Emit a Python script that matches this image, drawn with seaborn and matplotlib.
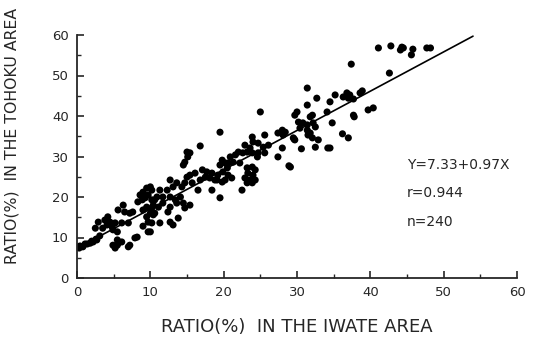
import matplotlib
matplotlib.use("Agg")
import matplotlib.pyplot as plt
import seaborn as sns
import pandas as pd
import numpy as np
from matplotlib.ticker import MultipleLocator

# Data (x: Iwate ratio %, y: Tohoku ratio %)
iwate = [
    0.3, 0.4, 0.8, 1.1, 1.4, 1.8, 2.0, 2.2, 2.6, 2.7, 3.1,
    3.5, 3.8, 4.1, 4.2, 4.5, 4.8, 4.9, 5.2, 5.5, 5.6, 6.1, 6.3, 6.5, 7.0, 7.2, 7.6, 2.9, 2.5,
    4.9, 5.2, 5.5, 5.6, 6.1, 5.5, 7.0, 7.2, 7.9, 8.2, 9.7, 9.0,
    8.6, 9.0, 9.5, 10.0, 10.2, 9.7, 9.3, 8.9, 8.3, 10.2, 10.4, 9.5, 9.0, 9.5, 10.0, 10.4, 9.7, 10.2,
    10.0, 10.2, 10.6, 10.6, 10.9, 11.1, 11.3, 11.3, 11.7, 11.7, 12.3, 12.4, 12.7, 12.7, 12.7, 12.7,
    13.1, 13.1, 13.4, 13.6, 13.6, 13.8, 14.1, 14.3, 14.5, 14.7, 14.7, 15.0, 15.4, 15.7, 16.1, 16.5,
    16.8, 17.1, 17.5, 17.7, 18.1, 18.4, 18.4, 18.8, 19.1, 19.2, 19.5, 19.5, 19.8, 19.8, 19.9, 20.2,
    20.5, 20.6, 14.5, 14.7, 15.0, 15.1, 15.4, 19.5, 16.8, 25.0, 31.4, 22.5, 15.4,
    20.2, 20.6, 20.9, 21.1, 21.3, 21.6, 22.0, 22.2, 22.6, 22.9, 22.9, 23.2, 23.2, 23.2, 23.3, 23.6,
    23.6, 23.9, 23.9, 23.9, 23.9, 24.0, 24.0, 24.3, 24.3, 24.6, 24.7, 24.7, 25.4, 25.6, 25.6, 26.1,
    27.4, 27.4, 28.0, 28.0, 28.1, 29.1, 29.5, 29.7, 30.2, 30.4, 30.8,
    28.4, 28.9, 29.6, 29.7, 30.0, 30.6, 31.4, 31.4, 31.5, 31.8, 31.8, 32.1, 32.1, 32.2, 32.5, 32.5,
    32.7, 32.9, 34.1, 34.2, 34.5, 34.8, 35.2, 36.2, 36.3, 36.8, 37.0, 37.0, 37.2, 37.4, 37.7, 37.7,
    37.8, 38.6, 38.9, 39.7, 40.4, 34.5, 31.4,
    41.1, 42.6, 42.8, 44.1, 44.3, 44.5, 45.6, 45.8, 47.7, 48.2,
]
tohoku = [
    7.4, 7.9, 7.7, 8.4, 8.4, 8.6, 9.1, 8.9, 9.6, 9.4, 10.4,
    12.3, 14.3, 13.1, 15.1, 13.8, 12.6, 11.9, 13.6, 11.4, 16.8, 13.6, 18.0, 16.3, 13.6, 16.0, 16.3, 13.8, 12.3,
    8.1, 7.4, 9.4, 8.6, 8.9, 8.1, 7.7, 8.1, 9.9, 10.1, 11.4, 12.8,
    20.5, 21.2, 22.2, 22.5, 21.7, 20.5, 19.8, 19.3, 18.8, 19.3, 18.0, 17.5, 16.8, 15.1, 16.0, 15.6, 13.8, 13.6,
    11.4, 17.3, 19.3, 16.0, 20.0, 17.5, 21.7, 13.6, 20.0, 18.5, 21.7, 16.3, 24.2, 20.0, 17.5, 13.8,
    22.5, 13.1, 19.3, 23.5, 18.5, 14.8, 20.0, 22.5, 18.5, 23.5, 17.3, 24.9, 25.4, 23.5, 25.9, 21.7,
    24.2, 26.7, 24.9, 26.2, 24.7, 25.9, 21.7, 24.2, 24.2, 25.4, 27.9, 19.8, 29.1, 23.7, 26.2, 28.4,
    27.2, 25.4, 27.9, 28.6, 31.1, 29.9, 30.9, 36.0, 32.6, 41.0, 46.9, 21.7, 18.0,
    24.2, 28.4, 29.9, 24.7, 28.6, 30.4, 31.1, 28.4, 30.9, 32.8, 24.7, 31.1, 27.2, 23.5, 25.9, 32.1,
    24.2, 34.8, 30.9, 27.4, 23.5, 33.6, 25.4, 26.7, 24.2, 29.9, 33.3, 30.9, 32.3, 35.3, 30.9, 32.8,
    35.8, 29.9, 36.5, 32.1, 35.3, 27.4, 34.6, 34.1, 38.5, 37.0, 38.3,
    36.0, 27.7, 34.3, 40.2, 41.0, 31.9, 37.8, 36.5, 35.3, 39.8, 35.8, 40.2, 34.6, 38.3, 37.3, 32.3,
    44.4, 34.1, 41.0, 32.1, 43.5, 38.3, 45.2, 35.6, 44.7, 45.7, 34.6, 44.4, 45.2, 52.8, 44.2, 40.2,
    39.8, 45.7, 46.2, 41.5, 42.0, 32.1, 42.7,
    56.8, 50.6, 57.3, 56.3, 57.0, 56.8, 55.1, 56.5, 56.8, 56.8,
]
intercept = 7.33
slope = 0.97
line_x = [0, 54]
x_ticks = [0, 10, 20, 30, 40, 50, 60]
y_ticks = [0, 10, 20, 30, 40, 50, 60]
x_label = "RATIO(%)  IN THE IWATE AREA"
y_label = "RATIO(%)  IN THE TOHOKU AREA"
notes = ["Y=7.33+0.97X", "r=0.944", "n=240"]

df = pd.DataFrame({"iwate": iwate, "tohoku": tohoku})

sns.set_style("ticks")
plt.rcParams["font.family"] = ["DejaVu Sans"]

fig = plt.figure(figsize=(5.37, 3.42), dpi=100)
ax = fig.add_axes([77 / 537, 64 / 342, 440 / 537, 243 / 342])

sns.scatterplot(data=df, x="iwate", y="tohoku", ax=ax, color="black",
                edgecolor="none", s=26, legend=False)
lx = np.array(line_x, dtype=float)
ax.plot(lx, intercept + slope * lx, color="black", lw=1.2)

ax.set_xlim(0, 60)
ax.set_ylim(0, 60)
ax.set_xticks(x_ticks)
ax.set_yticks(y_ticks)
ax.xaxis.set_minor_locator(MultipleLocator(5))
ax.yaxis.set_minor_locator(MultipleLocator(5))
ax.tick_params(which="major", direction="in", length=5, width=1.2, labelsize=9.5, pad=6)
ax.tick_params(which="minor", direction="in", length=3, width=1)
for s in ["top", "right"]:
    ax.spines[s].set_visible(False)
for s in ["left", "bottom"]:
    ax.spines[s].set_linewidth(1.3)

ax.set_xlabel(x_label, fontsize=13)
ax.set_ylabel(y_label, fontsize=11.3)
ax.xaxis.set_label_coords(0.5, -0.165)
ax.yaxis.set_label_coords(-0.13, 0.585)

ax.text(0.75, 0.465, notes[0], transform=ax.transAxes, fontsize=10, va="center", ha="left")
ax.text(0.75, 0.35, notes[1], transform=ax.transAxes, fontsize=10, va="center", ha="left")
ax.text(0.75, 0.23, notes[2], transform=ax.transAxes, fontsize=10, va="center", ha="left")

fig.savefig("out.png", dpi=100)
